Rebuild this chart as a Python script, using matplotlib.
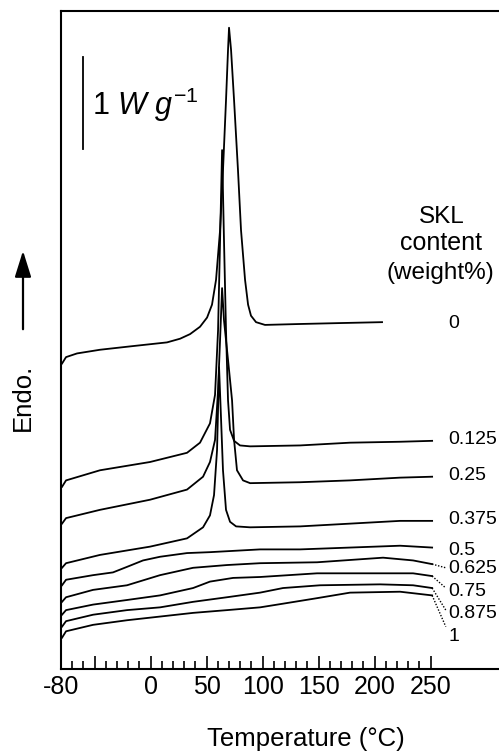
import numpy as np
import matplotlib
matplotlib.use('Agg')
import matplotlib.pyplot as plt

plt.rcParams['font.family'] = ['Liberation Sans', 'DejaVu Sans']
plt.rcParams['mathtext.fontset'] = 'custom'
plt.rcParams['mathtext.rm'] = 'Liberation Sans'
plt.rcParams['mathtext.it'] = 'Liberation Sans:italic'

# SKL content of each DSC trace (weight%)
contents = ['0', '0.125', '0.25', '0.375', '0.5', '0.625', '0.75', '0.875', '1']

# temperature (degC) and stacked heat flow (W/g, offset)
t_0 = [-79.1, -75.5, -65.7, -45.2, -15.7, 14.6, 26.3, 35.2, 44.1, 50.4, 54.8, 58.4,
       62.0, 64.6, 67.3, 69.1, 70.0, 71.8, 74.5, 78.0, 80.7, 84.3, 87.0, 89.6,
       94.1, 102.1, 133.4, 169.1, 206.6]
hf_0 = [3.32, 3.39, 3.43, 3.47, 3.51, 3.55, 3.59, 3.64, 3.72, 3.82, 3.96, 4.23,
        4.77, 5.42, 6.18, 6.73, 6.97, 6.73, 6.18, 5.42, 4.77, 4.23, 3.96, 3.84,
        3.77, 3.74, 3.75, 3.76, 3.77]

t_125 = [-79.1, -75.5, -45.2, -0.5, 32.5, 44.1, 53.0, 57.5, 60.2, 62.0, 63.8, 65.5,
         67.3, 69.1, 70.9, 74.5, 79.8, 88.8, 133.4, 178.0, 222.7, 251.3]
hf_125 = [1.98, 2.05, 2.16, 2.25, 2.35, 2.46, 2.67, 2.98, 3.68, 4.66, 5.64, 4.66,
          3.68, 2.92, 2.60, 2.48, 2.43, 2.42, 2.43, 2.46, 2.47, 2.48]

t_250 = [-79.1, -75.5, -45.2, -0.5, 32.5, 46.8, 53.0, 57.5, 60.2, 62.0, 63.8, 65.5,
         69.1, 72.7, 74.5, 77.1, 82.5, 88.8, 133.4, 178.0, 222.7, 251.3]
hf_250 = [1.58, 1.64, 1.73, 1.84, 1.95, 2.09, 2.25, 2.49, 3.03, 3.58, 4.14, 3.79,
          3.36, 2.92, 2.49, 2.16, 2.05, 2.02, 2.03, 2.05, 2.08, 2.09]

t_375 = [-79.1, -75.5, -45.2, -0.5, 32.5, 46.8, 53.0, 56.6, 59.3, 61.1, 62.9, 64.6,
         67.3, 70.9, 76.3, 88.8, 133.4, 178.0, 222.7, 251.3]
hf_375 = [1.10, 1.15, 1.24, 1.33, 1.42, 1.54, 1.67, 1.89, 2.38, 3.28, 2.71, 2.16,
          1.73, 1.60, 1.55, 1.54, 1.55, 1.58, 1.61, 1.61]

t_500 = [-79.1, -75.5, -51.4, -33.6, -21.1, -6.8, 8.4, 32.5, 53.0, 97.7, 133.4,
         178.0, 222.7, 251.3]
hf_500 = [0.91, 0.97, 1.02, 1.05, 1.11, 1.18, 1.22, 1.26, 1.27, 1.30, 1.30,
          1.32, 1.34, 1.32]

t_625 = [-79.1, -75.5, -51.4, -21.1, 8.4, 37.9, 68.2, 97.7, 148.6, 207.5, 234.3, 251.3]
hf_625 = [0.73, 0.78, 0.86, 0.91, 1.02, 1.10, 1.13, 1.15, 1.16, 1.21, 1.18, 1.14]

t_750 = [-79.1, -75.5, -51.4, -21.1, 8.4, 37.9, 53.0, 73.6, 97.7, 148.6, 207.5,
         234.3, 251.3]
hf_750 = [0.59, 0.64, 0.70, 0.75, 0.80, 0.88, 0.95, 0.99, 1.00, 1.04, 1.04,
          1.04, 1.01]

t_875 = [-79.1, -75.5, -51.4, -21.1, 8.4, 37.9, 68.2, 97.7, 118.2, 151.3, 204.8,
         234.3, 251.3]
hf_875 = [0.46, 0.52, 0.59, 0.64, 0.67, 0.73, 0.78, 0.83, 0.88, 0.91, 0.92,
          0.91, 0.88]

t_1000 = [-79.1, -75.5, -51.4, -21.1, 8.4, 37.9, 68.2, 97.7, 118.2, 148.6, 178.0,
          222.7, 251.3]
hf_1000 = [0.34, 0.41, 0.48, 0.53, 0.57, 0.61, 0.64, 0.67, 0.71, 0.77, 0.83,
           0.84, 0.80]

temps = [t_0, t_125, t_250, t_375, t_500, t_625, t_750, t_875, t_1000]
flows = [hf_0, hf_125, hf_250, hf_375, hf_500, hf_625, hf_750, hf_875, hf_1000]

# where the right-hand labels sit, and where the dotted leaders end
label_y = [3.76, 2.49, 2.10, 1.62, 1.29, 1.09, 0.84, 0.60, 0.35]
leader_y = [None, None, None, None, None, 1.10, 0.88, 0.64, 0.46]

xtick_pos = [-80, -50, 0, 50, 100, 150, 200, 250]
xtick_lab = ['-80', '', '0', '50', '100', '150', '200', '250']

fig = plt.figure(figsize=(4.99, 7.51), dpi=100)
ax = fig.add_axes([61 / 499, 1 - 669 / 751, 438 / 499, 658 / 751])

for t, hf in zip(temps, flows):
    ax.plot(t, hf, color='k', lw=1.3)

lead_x = 263.5
for t, hf, ly in zip(temps, flows, leader_y):
    if ly is not None:
        ax.plot([t[-1], lead_x], [hf[-1], ly], color='k', lw=1.0,
                ls=(0, (1, 1.2)), clip_on=False)

for c, ly in zip(contents, label_y):
    ax.text(265.5, ly, c, fontsize=14, ha='left', va='center', clip_on=False)

ax.text(259.5, 4.91, 'SKL', fontsize=17.5, ha='center', va='center')
ax.text(259.5, 4.63, 'content', fontsize=18, ha='center', va='center')
ax.text(258.5, 4.30, '(weight%)', fontsize=17.5, ha='center', va='center')

# 1 W/g scale bar
ax.plot([-60.4, -60.4], [5.65, 6.65], color='k', lw=1.3)
ax.text(-52.5, 6.02, r'$1\ W\ g^{-1}$', fontsize=22, ha='left', va='baseline')

ax.set_xlim(-80, 311)
ax.set_ylim(0, 7.152)
ax.spines['right'].set_visible(False)
for s in ['left', 'top', 'bottom']:
    ax.spines[s].set_linewidth(1.5)

ax.set_xticks(xtick_pos)
ax.set_xticklabels(xtick_lab)
ax.set_xticks(np.arange(-70, 251, 10), minor=True)
ax.tick_params(axis='x', which='major', direction='in', length=9.5, width=1.2,
               labelsize=18, pad=4)
ax.tick_params(axis='x', which='minor', direction='in', length=6, width=1.2)
ax.set_yticks([])

ax.set_xlabel('Temperature (°C)', fontsize=18.5, va='center')
ax.xaxis.set_label_coords((306 - 61) / 438, -(739 - 669) / 658)

fig.text(23 / 499, 1 - 397 / 751, 'Endo.', rotation=90, fontsize=18.5,
         ha='center', va='center')
ax.annotate('', xy=(23 / 499, 1 - 248 / 751), xytext=(23 / 499, 1 - 332 / 751),
            xycoords='figure fraction', textcoords='figure fraction',
            arrowprops=dict(arrowstyle='-|>,head_length=0.8,head_width=0.25',
                            mutation_scale=20, color='k', lw=1.6))

fig.savefig('out.png', dpi=100)
